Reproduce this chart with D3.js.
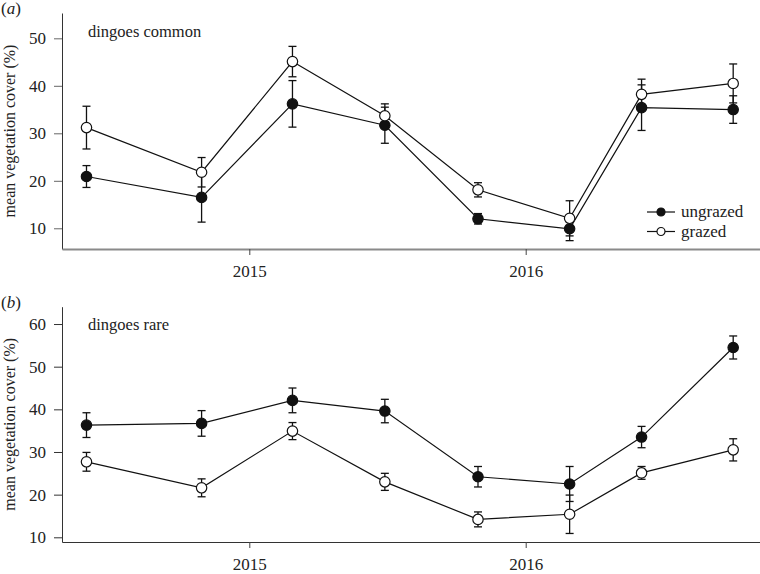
<!DOCTYPE html>
<html>
<head>
	<title>Vegetation cover</title>
</head>
<style type="text/css">
	html, body {margin:0px; padding:0px; background:#fff;}
	svg {display:block;}
	text {font-family: "Liberation Serif", "Times New Roman", Times, "DejaVu Serif", "Noto Serif", serif; fill:#222;}
</style>
<body>

	<svg width="760" height="574"></svg>

<script src="https://d3js.org/d3.v7.min.js"></script>
<script type="text/javascript">

	const serif = '"Liberation Serif", "Times New Roman", Times, "DejaVu Serif", "Noto Serif", serif';

	// sampling dates (x positions)
	const dates = ['2014-05-31','2014-10-30','2015-02-27','2015-06-29','2015-10-30','2016-02-28','2016-06-02','2016-10-01'];
	const yearTicks = ['2015-01-01','2016-01-01'];

	// (a) dingoes common
	const commonUngrazed    = [20.9, 16.5, 36.2, 31.7, 12.0,  9.9, 35.4, 35.0];
	const commonUngrazedErr = [ 2.3,  5.2,  4.9,  3.8,  1.1,  2.5,  4.8,  2.9];
	const commonGrazed      = [31.2, 21.8, 45.1, 33.7, 18.1, 12.1, 38.2, 40.5];
	const commonGrazedErr   = [ 4.5,  3.1,  3.2,  2.5,  1.5,  3.7,  3.2,  4.1];

	// (b) dingoes rare
	const rareUngrazed    = [36.3, 36.7, 42.1, 39.6, 24.2, 22.5, 33.5, 54.5];
	const rareUngrazedErr = [ 2.9,  3.0,  2.9,  2.75, 2.4,  4.1,  2.5,  2.7];
	const rareGrazed      = [27.7, 21.6, 34.9, 23.0, 14.2, 15.4, 25.1, 30.5];
	const rareGrazedErr   = [ 2.2,  2.1,  2.0,  2.0,  1.75, 4.5,  1.5,  2.6];

	const commonTicks = [10, 20, 30, 40, 50];
	const rareTicks = [10, 20, 30, 40, 50, 60];

	const parse = d3.timeParse('%Y-%m-%d');
	const svg = d3.select('svg');

	// x scale: 2015 and 2016 tick positions, extended to the plot edges
	let x = d3.scaleTime()
		.domain([parse(yearTicks[0]), parse(yearTicks[1])])
		.range([249.3, 525.7]);
	x = x.copy().domain([x.invert(62), x.invert(760)]).range([62, 760]);

	function panel(opts) {
		const g = svg.append('g');
		const y = d3.scaleLinear().domain(opts.yDomain).range([opts.bottom, opts.top]);

		// y axis
		const ya = g.append('g')
			.attr('transform', 'translate(62,0)')
			.call(d3.axisLeft(y).tickValues(opts.ticks).tickSize(8).tickPadding(8).tickSizeOuter(0));
		ya.attr('font-family', serif);
		ya.select('.domain').attr('stroke', '#333');
		ya.selectAll('.tick line').attr('stroke', opts.yTickCol);
		ya.selectAll('.tick text').attr('font-size', 17).attr('font-family', serif).attr('fill', '#222');

		// x axis
		const xa = g.append('g')
			.attr('transform', 'translate(0,' + opts.bottom + ')')
			.call(d3.axisBottom(x).tickValues(yearTicks.map(parse)).tickFormat(d3.timeFormat('%Y')).tickSize(6).tickPadding(10).tickSizeOuter(0));
		xa.attr('font-family', serif);
		xa.select('.domain').attr('stroke', opts.xAxisCol).attr('stroke-width', opts.xAxisW);
		xa.selectAll('.tick line').attr('stroke', '#444');
		xa.selectAll('.tick text').attr('font-size', 17).attr('font-family', serif).attr('fill', '#222');

		// panel letter
		const lt = g.append('text').attr('x', 1).attr('y', opts.top + 1).attr('font-size', 17);
		lt.append('tspan').text('(');
		lt.append('tspan').attr('font-style', 'italic').text(opts.letter);
		lt.append('tspan').text(')');

		// title
		g.append('text').attr('x', 88).attr('y', opts.titleY).attr('font-size', 16.5).text(opts.title);

		// y label
		g.append('text')
			.attr('transform', 'translate(15,' + ((opts.top + opts.bottom) / 2) + ') rotate(-90)')
			.attr('text-anchor', 'middle')
			.attr('font-size', 16)
			.text('mean vegetation cover (%)');

		const series = [
			{vals: opts.ung, err: opts.ungErr, fill: '#111'},
			{vals: opts.gra, err: opts.graErr, fill: '#fff'}
		];

		// error bars
		series.forEach(function(s) {
			const pts = dates.map(function(d, i) { return {x: x(parse(d)), v: s.vals[i], e: s.err[i]}; });
			const eb = g.append('g').attr('stroke', '#111').attr('stroke-width', 1.3);
			eb.selectAll('line.v').data(pts).enter().append('line')
				.attr('x1', function(d) { return d.x; }).attr('x2', function(d) { return d.x; })
				.attr('y1', function(d) { return y(d.v - d.e); }).attr('y2', function(d) { return y(d.v + d.e); });
			[-1, 1].forEach(function(sign) {
				eb.selectAll('line.c' + sign).data(pts).enter().append('line')
					.attr('x1', function(d) { return d.x - 4; }).attr('x2', function(d) { return d.x + 4; })
					.attr('y1', function(d) { return y(d.v + sign * d.e); }).attr('y2', function(d) { return y(d.v + sign * d.e); });
			});
		});

		// lines + markers
		series.forEach(function(s) {
			const pts = dates.map(function(d, i) { return [x(parse(d)), y(s.vals[i])]; });
			g.append('path').attr('d', d3.line()(pts)).attr('fill', 'none').attr('stroke', '#111').attr('stroke-width', 1.2);
		});
		series.forEach(function(s) {
			g.append('g').selectAll('circle').data(dates).enter().append('circle')
				.attr('cx', function(d) { return x(parse(d)); })
				.attr('cy', function(d, i) { return y(s.vals[i]); })
				.attr('r', 5.2)
				.attr('fill', s.fill)
				.attr('stroke', '#111')
				.attr('stroke-width', 1.2);
		});

		return g;
	}

	const ga = panel({
		letter: 'a', title: 'dingoes common', titleY: 37,
		yDomain: [5.64, 55.33], top: 13, bottom: 249, ticks: commonTicks,
		ung: commonUngrazed, ungErr: commonUngrazedErr, gra: commonGrazed, graErr: commonGrazedErr,
		xAxisCol: '#8a8a8a', xAxisW: 2, yTickCol: '#666'
	});

	panel({
		letter: 'b', title: 'dingoes rare', titleY: 330,
		yDomain: [8.9, 64.06], top: 306.7, bottom: 542, ticks: rareTicks,
		ung: rareUngrazed, ungErr: rareUngrazedErr, gra: rareGrazed, graErr: rareGrazedErr,
		xAxisCol: '#333', xAxisW: 1.2, yTickCol: '#333'
	});

	// legend in panel (a)
	const legend = [{label: 'ungrazed', fill: '#111'}, {label: 'grazed', fill: '#fff'}];
	const lg = ga.append('g').selectAll('g').data(legend).enter().append('g')
		.attr('transform', function(d, i) { return 'translate(647,' + (212 + i * 19.5) + ')'; });
	lg.append('line').attr('x1', 0).attr('x2', 28).attr('stroke', '#111').attr('stroke-width', 1.2);
	lg.append('circle').attr('cx', 14).attr('r', 4).attr('fill', function(d) { return d.fill; }).attr('stroke', '#111').attr('stroke-width', 1.2);
	lg.append('text').attr('x', 34).attr('dy', '0.32em').attr('font-size', 17).text(function(d) { return d.label; });

</script>
</body>
</html>
